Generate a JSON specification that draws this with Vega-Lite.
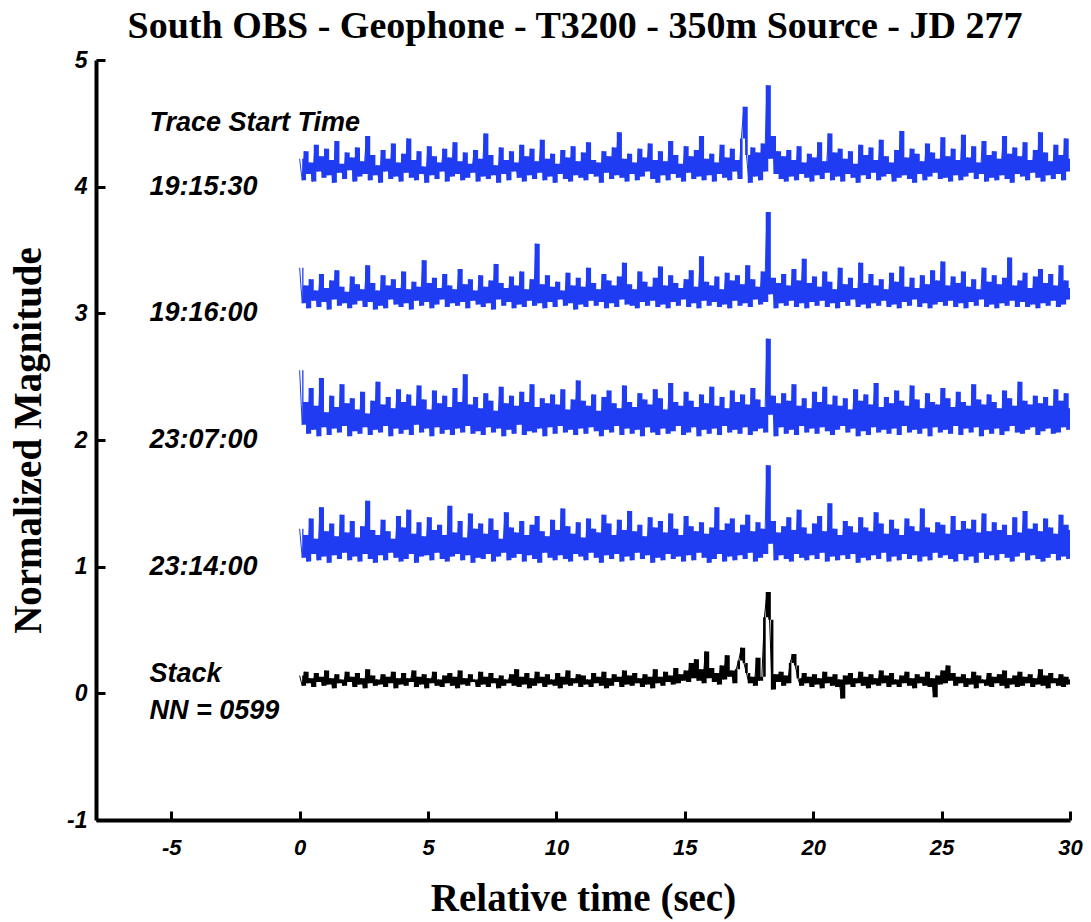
{
"$schema": "https://vega.github.io/schema/vega-lite/v6.json",
"width": 974, "height": 760,
"autosize": {"type": "none"},
"padding": {"left": 96, "top": 60, "right": 21, "bottom": 102},
"background": "white",
"title": {"text": "South OBS - Geophone - T3200 - 350m Source - JD 277", "font": "Liberation Serif", "fontSize": 38, "fontWeight": "bold", "color": "black", "anchor": "middle", "frame": "group", "baseline": "alphabetic", "offset": 0, "dy": 27, "dx": -8},
"config": {
  "view": {"stroke": null},
  "axis": {"grid": false, "domainColor": "black", "domainWidth": 4, "tickColor": "black", "tickWidth": 3, "tickSize": -9, "labelFont": "Liberation Sans", "labelFontStyle": "italic", "labelFontWeight": "bold", "labelFontSize": 22, "labelColor": "black", "labelFlush": false, "titleFont": "Liberation Serif", "titleFontWeight": "bold", "titleFontSize": 39, "titleColor": "black"}
},
"datasets": {
"sig": [
{"t":0,"a":4.22,"b":3.36,"c":2.55,"d":1.30,"e":0.14},
{"t":0.1,"a":4.05,"b":3.08,"c":2.12,"d":1.07,"e":0.06},
{"t":0.2,"a":4.28,"b":3.22,"c":2.30,"d":1.25,"e":0.17},
{"t":0.3,"a":4.10,"b":3.04,"c":2.05,"d":1.04,"e":0.08},
{"t":0.4,"a":4.19,"b":3.27,"c":2.41,"d":1.38,"e":0.12},
{"t":0.5,"a":4.04,"b":3.10,"c":2.08,"d":1.10,"e":0.05},
{"t":0.6,"a":4.33,"b":3.18,"c":2.27,"d":1.22,"e":0.16},
{"t":0.7,"a":4.12,"b":3.05,"c":2.03,"d":1.05,"e":0.09},
{"t":0.8,"a":4.24,"b":3.31,"c":2.49,"d":1.47,"e":0.13},
{"t":0.9,"a":4.07,"b":3.09,"c":2.10,"d":1.08,"e":0.06},
{"t":1.0,"a":4.30,"b":3.20,"c":2.22,"d":1.28,"e":0.18},
{"t":1.1,"a":4.09,"b":3.03,"c":2.04,"d":1.03,"e":0.07},
{"t":1.2,"a":4.21,"b":3.26,"c":2.35,"d":1.34,"e":0.12},
{"t":1.3,"a":4.03,"b":3.11,"c":2.09,"d":1.09,"e":0.04},
{"t":1.4,"a":4.36,"b":3.34,"c":2.26,"d":1.24,"e":0.15},
{"t":1.5,"a":4.11,"b":3.06,"c":2.06,"d":1.06,"e":0.08},
{"t":1.6,"a":4.18,"b":3.21,"c":2.44,"d":1.41,"e":0.11},
{"t":1.7,"a":4.06,"b":3.08,"c":2.11,"d":1.11,"e":0.06},
{"t":1.8,"a":4.27,"b":3.17,"c":2.29,"d":1.27,"e":0.17},
{"t":1.9,"a":4.13,"b":3.04,"c":2.03,"d":1.05,"e":0.09},
{"t":2.0,"a":4.23,"b":3.29,"c":2.33,"d":1.36,"e":0.13},
{"t":2.1,"a":4.04,"b":3.07,"c":2.07,"d":1.08,"e":0.05},
{"t":2.2,"a":4.31,"b":3.23,"c":2.24,"d":1.23,"e":0.16},
{"t":2.3,"a":4.08,"b":3.10,"c":2.05,"d":1.04,"e":0.07},
{"t":2.4,"a":4.20,"b":3.19,"c":2.38,"d":1.32,"e":0.12},
{"t":2.5,"a":4.10,"b":3.05,"c":2.10,"d":1.10,"e":0.04},
{"t":2.6,"a":4.40,"b":3.38,"c":2.21,"d":1.52,"e":0.19},
{"t":2.7,"a":4.05,"b":3.09,"c":2.04,"d":1.06,"e":0.08},
{"t":2.8,"a":4.25,"b":3.24,"c":2.31,"d":1.29,"e":0.14},
{"t":2.9,"a":4.09,"b":3.03,"c":2.08,"d":1.03,"e":0.06},
{"t":3.0,"a":4.17,"b":3.18,"c":2.46,"d":1.25,"e":0.11},
{"t":3.1,"a":4.03,"b":3.06,"c":2.06,"d":1.09,"e":0.07},
{"t":3.2,"a":4.29,"b":3.30,"c":2.28,"d":1.37,"e":0.15},
{"t":3.3,"a":4.12,"b":3.04,"c":2.11,"d":1.05,"e":0.05},
{"t":3.4,"a":4.22,"b":3.22,"c":2.34,"d":1.28,"e":0.13},
{"t":3.5,"a":4.06,"b":3.11,"c":2.03,"d":1.11,"e":0.08},
{"t":3.6,"a":4.34,"b":3.27,"c":2.25,"d":1.22,"e":0.17},
{"t":3.7,"a":4.08,"b":3.07,"c":2.09,"d":1.07,"e":0.04},
{"t":3.8,"a":4.19,"b":3.20,"c":2.40,"d":1.40,"e":0.12},
{"t":3.9,"a":4.04,"b":3.05,"c":2.05,"d":1.04,"e":0.07},
{"t":4.0,"a":4.26,"b":3.33,"c":2.30,"d":1.31,"e":0.16},
{"t":4.1,"a":4.11,"b":3.08,"c":2.08,"d":1.06,"e":0.06},
{"t":4.2,"a":4.38,"b":3.19,"c":2.36,"d":1.45,"e":0.12},
{"t":4.3,"a":4.07,"b":3.03,"c":2.04,"d":1.10,"e":0.09},
{"t":4.4,"a":4.21,"b":3.25,"c":2.27,"d":1.26,"e":0.18},
{"t":4.5,"a":4.05,"b":3.10,"c":2.12,"d":1.03,"e":0.05},
{"t":4.6,"a":4.28,"b":3.21,"c":2.43,"d":1.35,"e":0.13},
{"t":4.7,"a":4.10,"b":3.06,"c":2.06,"d":1.08,"e":0.07},
{"t":4.8,"a":4.16,"b":3.42,"c":2.32,"d":1.24,"e":0.15},
{"t":4.9,"a":4.03,"b":3.09,"c":2.09,"d":1.09,"e":0.04},
{"t":5.0,"a":4.32,"b":3.24,"c":2.24,"d":1.39,"e":0.12},
{"t":5.1,"a":4.09,"b":3.04,"c":2.03,"d":1.05,"e":0.08},
{"t":5.2,"a":4.24,"b":3.28,"c":2.39,"d":1.29,"e":0.17},
{"t":5.3,"a":4.06,"b":3.07,"c":2.10,"d":1.11,"e":0.06},
{"t":5.4,"a":4.19,"b":3.20,"c":2.29,"d":1.33,"e":0.11},
{"t":5.5,"a":4.12,"b":3.11,"c":2.05,"d":1.06,"e":0.05},
{"t":5.6,"a":4.30,"b":3.31,"c":2.35,"d":1.25,"e":0.14},
{"t":5.7,"a":4.04,"b":3.05,"c":2.08,"d":1.04,"e":0.08},
{"t":5.8,"a":4.23,"b":3.22,"c":2.26,"d":1.48,"e":0.16},
{"t":5.9,"a":4.08,"b":3.08,"c":2.04,"d":1.08,"e":0.06},
{"t":6.0,"a":4.35,"b":3.19,"c":2.41,"d":1.27,"e":0.13},
{"t":6.1,"a":4.10,"b":3.06,"c":2.09,"d":1.10,"e":0.04},
{"t":6.2,"a":4.20,"b":3.35,"c":2.30,"d":1.36,"e":0.18},
{"t":6.3,"a":4.05,"b":3.09,"c":2.06,"d":1.05,"e":0.07},
{"t":6.4,"a":4.27,"b":3.23,"c":2.52,"d":1.23,"e":0.12},
{"t":6.5,"a":4.07,"b":3.04,"c":2.11,"d":1.09,"e":0.06},
{"t":6.6,"a":4.18,"b":3.27,"c":2.28,"d":1.42,"e":0.15},
{"t":6.7,"a":4.11,"b":3.10,"c":2.05,"d":1.03,"e":0.09},
{"t":6.8,"a":4.29,"b":3.18,"c":2.34,"d":1.30,"e":0.11},
{"t":6.9,"a":4.04,"b":3.07,"c":2.07,"d":1.07,"e":0.05},
{"t":7.0,"a":4.22,"b":3.30,"c":2.25,"d":1.34,"e":0.17},
{"t":7.1,"a":4.08,"b":3.05,"c":2.04,"d":1.06,"e":0.07},
{"t":7.2,"a":4.42,"b":3.21,"c":2.37,"d":1.26,"e":0.13},
{"t":7.3,"a":4.06,"b":3.08,"c":2.10,"d":1.10,"e":0.05},
{"t":7.4,"a":4.25,"b":3.26,"c":2.31,"d":1.38,"e":0.16},
{"t":7.5,"a":4.09,"b":3.03,"c":2.06,"d":1.04,"e":0.08},
{"t":7.6,"a":4.17,"b":3.39,"c":2.23,"d":1.29,"e":0.12},
{"t":7.7,"a":4.03,"b":3.11,"c":2.09,"d":1.08,"e":0.04},
{"t":7.8,"a":4.31,"b":3.24,"c":2.42,"d":1.22,"e":0.14},
{"t":7.9,"a":4.10,"b":3.06,"c":2.03,"d":1.11,"e":0.06},
{"t":8.0,"a":4.21,"b":3.20,"c":2.29,"d":1.43,"e":0.11},
{"t":8.1,"a":4.05,"b":3.09,"c":2.08,"d":1.05,"e":0.08},
{"t":8.2,"a":4.28,"b":3.29,"c":2.35,"d":1.31,"e":0.15},
{"t":8.3,"a":4.12,"b":3.04,"c":2.05,"d":1.07,"e":0.06},
{"t":8.4,"a":4.19,"b":3.22,"c":2.27,"d":1.27,"e":0.19},
{"t":8.5,"a":4.07,"b":3.07,"c":2.12,"d":1.10,"e":0.05},
{"t":8.6,"a":4.33,"b":3.33,"c":2.38,"d":1.36,"e":0.13},
{"t":8.7,"a":4.04,"b":3.05,"c":2.04,"d":1.04,"e":0.07},
{"t":8.8,"a":4.24,"b":3.19,"c":2.30,"d":1.25,"e":0.16},
{"t":8.9,"a":4.09,"b":3.10,"c":2.07,"d":1.09,"e":0.04},
{"t":9.0,"a":4.30,"b":3.27,"c":2.44,"d":1.33,"e":0.12},
{"t":9.1,"a":4.06,"b":3.06,"c":2.06,"d":1.06,"e":0.06},
{"t":9.2,"a":4.20,"b":3.55,"c":2.26,"d":1.40,"e":0.17},
{"t":9.3,"a":4.11,"b":3.08,"c":2.09,"d":1.03,"e":0.08},
{"t":9.4,"a":4.37,"b":3.23,"c":2.33,"d":1.28,"e":0.13},
{"t":9.5,"a":4.05,"b":3.04,"c":2.03,"d":1.11,"e":0.05},
{"t":9.6,"a":4.22,"b":3.30,"c":2.29,"d":1.24,"e":0.15},
{"t":9.7,"a":4.08,"b":3.09,"c":2.10,"d":1.07,"e":0.07},
{"t":9.8,"a":4.26,"b":3.21,"c":2.36,"d":1.37,"e":0.11},
{"t":9.9,"a":4.03,"b":3.05,"c":2.05,"d":1.05,"e":0.06},
{"t":10.0,"a":4.18,"b":3.25,"c":2.28,"d":1.29,"e":0.16},
{"t":10.1,"a":4.10,"b":3.11,"c":2.11,"d":1.09,"e":0.04},
{"t":10.2,"a":4.29,"b":3.18,"c":2.40,"d":1.46,"e":0.13},
{"t":10.3,"a":4.06,"b":3.06,"c":2.06,"d":1.06,"e":0.07},
{"t":10.4,"a":4.23,"b":3.32,"c":2.24,"d":1.32,"e":0.18},
{"t":10.5,"a":4.04,"b":3.08,"c":2.08,"d":1.04,"e":0.06},
{"t":10.6,"a":4.32,"b":3.22,"c":2.32,"d":1.26,"e":0.12},
{"t":10.7,"a":4.09,"b":3.03,"c":2.04,"d":1.10,"e":0.08},
{"t":10.8,"a":4.20,"b":3.28,"c":2.47,"d":1.35,"e":0.15},
{"t":10.9,"a":4.07,"b":3.07,"c":2.09,"d":1.08,"e":0.05},
{"t":11.0,"a":4.27,"b":3.21,"c":2.31,"d":1.23,"e":0.14},
{"t":11.1,"a":4.05,"b":3.05,"c":2.05,"d":1.05,"e":0.07},
{"t":11.2,"a":4.35,"b":3.36,"c":2.27,"d":1.38,"e":0.11},
{"t":11.3,"a":4.10,"b":3.10,"c":2.10,"d":1.11,"e":0.05},
{"t":11.4,"a":4.21,"b":3.24,"c":2.36,"d":1.30,"e":0.16},
{"t":11.5,"a":4.08,"b":3.06,"c":2.07,"d":1.07,"e":0.08},
{"t":11.6,"a":4.19,"b":3.19,"c":2.23,"d":1.27,"e":0.13},
{"t":11.7,"a":4.03,"b":3.09,"c":2.03,"d":1.03,"e":0.06},
{"t":11.8,"a":4.28,"b":3.31,"c":2.34,"d":1.41,"e":0.17},
{"t":11.9,"a":4.11,"b":3.04,"c":2.08,"d":1.09,"e":0.04},
{"t":12.0,"a":4.24,"b":3.26,"c":2.39,"d":1.34,"e":0.12},
{"t":12.1,"a":4.06,"b":3.08,"c":2.06,"d":1.06,"e":0.06},
{"t":12.2,"a":4.31,"b":3.22,"c":2.29,"d":1.25,"e":0.15},
{"t":12.3,"a":4.09,"b":3.05,"c":2.11,"d":1.10,"e":0.09},
{"t":12.4,"a":4.43,"b":3.29,"c":2.25,"d":1.37,"e":0.13},
{"t":12.5,"a":4.07,"b":3.11,"c":2.04,"d":1.04,"e":0.05},
{"t":12.6,"a":4.22,"b":3.40,"c":2.43,"d":1.29,"e":0.18},
{"t":12.7,"a":4.04,"b":3.07,"c":2.09,"d":1.08,"e":0.07},
{"t":12.8,"a":4.26,"b":3.23,"c":2.30,"d":1.44,"e":0.14},
{"t":12.9,"a":4.10,"b":3.06,"c":2.05,"d":1.05,"e":0.06},
{"t":13.0,"a":4.19,"b":3.19,"c":2.26,"d":1.28,"e":0.16},
{"t":13.1,"a":4.05,"b":3.04,"c":2.08,"d":1.11,"e":0.08},
{"t":13.2,"a":4.30,"b":3.33,"c":2.37,"d":1.33,"e":0.12},
{"t":13.3,"a":4.08,"b":3.09,"c":2.03,"d":1.06,"e":0.05},
{"t":13.4,"a":4.23,"b":3.25,"c":2.32,"d":1.24,"e":0.15},
{"t":13.5,"a":4.12,"b":3.06,"c":2.10,"d":1.09,"e":0.07},
{"t":13.6,"a":4.34,"b":3.21,"c":2.28,"d":1.39,"e":0.13},
{"t":13.7,"a":4.06,"b":3.10,"c":2.06,"d":1.03,"e":0.04},
{"t":13.8,"a":4.21,"b":3.28,"c":2.40,"d":1.31,"e":0.19},
{"t":13.9,"a":4.03,"b":3.05,"c":2.04,"d":1.07,"e":0.08},
{"t":14.0,"a":4.28,"b":3.37,"c":2.33,"d":1.36,"e":0.13},
{"t":14.1,"a":4.09,"b":3.07,"c":2.09,"d":1.05,"e":0.06},
{"t":14.2,"a":4.20,"b":3.22,"c":2.24,"d":1.27,"e":0.17},
{"t":14.3,"a":4.05,"b":3.04,"c":2.05,"d":1.10,"e":0.09},
{"t":14.4,"a":4.36,"b":3.30,"c":2.45,"d":1.42,"e":0.14},
{"t":14.5,"a":4.10,"b":3.09,"c":2.07,"d":1.06,"e":0.07},
{"t":14.6,"a":4.25,"b":3.24,"c":2.30,"d":1.30,"e":0.20},
{"t":14.7,"a":4.07,"b":3.06,"c":2.11,"d":1.08,"e":0.08},
{"t":14.8,"a":4.18,"b":3.20,"c":2.27,"d":1.25,"e":0.15},
{"t":14.9,"a":4.04,"b":3.11,"c":2.04,"d":1.04,"e":0.10},
{"t":15.0,"a":4.32,"b":3.27,"c":2.38,"d":1.40,"e":0.18},
{"t":15.1,"a":4.11,"b":3.05,"c":2.06,"d":1.09,"e":0.09},
{"t":15.2,"a":4.24,"b":3.34,"c":2.31,"d":1.32,"e":0.24},
{"t":15.3,"a":4.06,"b":3.08,"c":2.10,"d":1.05,"e":0.12},
{"t":15.4,"a":4.29,"b":3.21,"c":2.26,"d":1.28,"e":0.27},
{"t":15.5,"a":4.08,"b":3.04,"c":2.03,"d":1.11,"e":0.10},
{"t":15.6,"a":4.40,"b":3.45,"c":2.36,"d":1.35,"e":0.19},
{"t":15.7,"a":4.05,"b":3.10,"c":2.08,"d":1.07,"e":0.08},
{"t":15.8,"a":4.22,"b":3.25,"c":2.29,"d":1.26,"e":0.33},
{"t":15.9,"a":4.09,"b":3.06,"c":2.05,"d":1.03,"e":0.12},
{"t":16.0,"a":4.26,"b":3.22,"c":2.42,"d":1.31,"e":0.20},
{"t":16.1,"a":4.04,"b":3.09,"c":2.09,"d":1.06,"e":0.09},
{"t":16.2,"a":4.19,"b":3.29,"c":2.27,"d":1.47,"e":0.16},
{"t":16.3,"a":4.10,"b":3.05,"c":2.04,"d":1.10,"e":0.07},
{"t":16.4,"a":4.33,"b":3.19,"c":2.34,"d":1.29,"e":0.22},
{"t":16.5,"a":4.07,"b":3.07,"c":2.11,"d":1.04,"e":0.11},
{"t":16.6,"a":4.23,"b":3.32,"c":2.25,"d":1.34,"e":0.30},
{"t":16.7,"a":4.05,"b":3.04,"c":2.06,"d":1.08,"e":0.13},
{"t":16.8,"a":4.30,"b":3.26,"c":2.39,"d":1.38,"e":0.18},
{"t":16.9,"a":4.12,"b":3.10,"c":2.08,"d":1.05,"e":0.08},
{"t":17.0,"a":4.21,"b":3.30,"c":2.30,"d":1.27,"e":0.19},
{"t":17.1,"a":4.06,"b":3.06,"c":2.05,"d":1.09,"e":0.26},
{"t":17.2,"a":4.38,"b":3.23,"c":2.36,"d":1.33,"e":0.36},
{"t":17.3,"a":4.63,"b":3.08,"c":2.10,"d":1.06,"e":0.24},
{"t":17.4,"a":4.25,"b":3.38,"c":2.28,"d":1.41,"e":0.16},
{"t":17.5,"a":4.03,"b":3.05,"c":2.04,"d":1.11,"e":0.08},
{"t":17.6,"a":4.31,"b":3.27,"c":2.41,"d":1.28,"e":0.13},
{"t":17.7,"a":4.08,"b":3.11,"c":2.07,"d":1.04,"e":0.06},
{"t":17.8,"a":4.27,"b":3.21,"c":2.32,"d":1.35,"e":0.28},
{"t":17.9,"a":4.05,"b":3.07,"c":2.09,"d":1.07,"e":0.10},
{"t":18.0,"a":4.34,"b":3.33,"c":2.26,"d":1.30,"e":0.13},
{"t":18.1,"a":4.12,"b":3.09,"c":2.06,"d":1.10,"e":0.60},
{"t":18.2,"a":4.80,"b":3.80,"c":2.80,"d":1.80,"e":0.80},
{"t":18.3,"a":4.22,"b":3.15,"c":2.20,"d":1.18,"e":0.58},
{"t":18.4,"a":4.40,"b":3.28,"c":2.35,"d":1.36,"e":0.03},
{"t":18.5,"a":4.10,"b":3.04,"c":2.03,"d":1.05,"e":0.15},
{"t":18.6,"a":4.28,"b":3.24,"c":2.29,"d":1.27,"e":0.09},
{"t":18.7,"a":4.06,"b":3.08,"c":2.10,"d":1.09,"e":0.17},
{"t":18.8,"a":4.24,"b":3.31,"c":2.37,"d":1.32,"e":0.06},
{"t":18.9,"a":4.04,"b":3.06,"c":2.05,"d":1.06,"e":0.14},
{"t":19.0,"a":4.29,"b":3.22,"c":2.31,"d":1.39,"e":0.08},
{"t":19.1,"a":4.08,"b":3.10,"c":2.08,"d":1.04,"e":0.24},
{"t":19.2,"a":4.21,"b":3.35,"c":2.44,"d":1.29,"e":0.31},
{"t":19.3,"a":4.05,"b":3.05,"c":2.04,"d":1.10,"e":0.22},
{"t":19.4,"a":4.32,"b":3.26,"c":2.27,"d":1.45,"e":0.12},
{"t":19.5,"a":4.10,"b":3.08,"c":2.11,"d":1.07,"e":0.06},
{"t":19.6,"a":4.19,"b":3.43,"c":2.33,"d":1.31,"e":0.16},
{"t":19.7,"a":4.07,"b":3.04,"c":2.06,"d":1.05,"e":0.08},
{"t":19.8,"a":4.26,"b":3.24,"c":2.25,"d":1.26,"e":0.13},
{"t":19.9,"a":4.04,"b":3.09,"c":2.09,"d":1.09,"e":0.05},
{"t":20.0,"a":4.23,"b":3.29,"c":2.38,"d":1.34,"e":0.15},
{"t":20.1,"a":4.09,"b":3.06,"c":2.05,"d":1.06,"e":0.07},
{"t":20.2,"a":4.35,"b":3.21,"c":2.30,"d":1.40,"e":0.12},
{"t":20.3,"a":4.06,"b":3.10,"c":2.10,"d":1.11,"e":0.04},
{"t":20.4,"a":4.20,"b":3.33,"c":2.42,"d":1.28,"e":0.17},
{"t":20.5,"a":4.11,"b":3.05,"c":2.07,"d":1.04,"e":0.08},
{"t":20.6,"a":4.42,"b":3.25,"c":2.28,"d":1.50,"e":0.13},
{"t":20.7,"a":4.05,"b":3.08,"c":2.04,"d":1.08,"e":0.06},
{"t":20.8,"a":4.27,"b":3.19,"c":2.35,"d":1.30,"e":0.15},
{"t":20.9,"a":4.08,"b":3.04,"c":2.08,"d":1.05,"e":0.05},
{"t":21.0,"a":4.30,"b":3.36,"c":2.27,"d":1.25,"e":0.11},
{"t":21.1,"a":4.04,"b":3.09,"c":2.11,"d":1.09,"e":-0.04},
{"t":21.2,"a":4.22,"b":3.23,"c":2.33,"d":1.36,"e":0.14},
{"t":21.3,"a":4.10,"b":3.06,"c":2.06,"d":1.06,"e":0.07},
{"t":21.4,"a":4.28,"b":3.28,"c":2.24,"d":1.32,"e":0.16},
{"t":21.5,"a":4.07,"b":3.11,"c":2.09,"d":1.10,"e":0.05},
{"t":21.6,"a":4.18,"b":3.20,"c":2.40,"d":1.27,"e":0.12},
{"t":21.7,"a":4.03,"b":3.05,"c":2.03,"d":1.03,"e":0.08},
{"t":21.8,"a":4.33,"b":3.40,"c":2.31,"d":1.39,"e":0.17},
{"t":21.9,"a":4.09,"b":3.07,"c":2.07,"d":1.07,"e":0.06},
{"t":22.0,"a":4.25,"b":3.24,"c":2.36,"d":1.31,"e":0.13},
{"t":22.1,"a":4.06,"b":3.04,"c":2.04,"d":1.05,"e":0.04},
{"t":22.2,"a":4.31,"b":3.31,"c":2.28,"d":1.28,"e":0.15},
{"t":22.3,"a":4.11,"b":3.08,"c":2.10,"d":1.09,"e":0.07},
{"t":22.4,"a":4.21,"b":3.22,"c":2.45,"d":1.43,"e":0.12},
{"t":22.5,"a":4.05,"b":3.06,"c":2.06,"d":1.06,"e":0.06},
{"t":22.6,"a":4.37,"b":3.27,"c":2.26,"d":1.34,"e":0.18},
{"t":22.7,"a":4.08,"b":3.10,"c":2.08,"d":1.11,"e":0.08},
{"t":22.8,"a":4.24,"b":3.19,"c":2.34,"d":1.26,"e":0.14},
{"t":22.9,"a":4.10,"b":3.05,"c":2.05,"d":1.04,"e":0.05},
{"t":23.0,"a":4.19,"b":3.32,"c":2.29,"d":1.37,"e":0.16},
{"t":23.1,"a":4.04,"b":3.07,"c":2.09,"d":1.08,"e":0.07},
{"t":23.2,"a":4.29,"b":3.25,"c":2.39,"d":1.30,"e":0.11},
{"t":23.3,"a":4.07,"b":3.04,"c":2.04,"d":1.05,"e":0.05},
{"t":23.4,"a":4.44,"b":3.37,"c":2.31,"d":1.25,"e":0.14},
{"t":23.5,"a":4.09,"b":3.09,"c":2.11,"d":1.10,"e":0.08},
{"t":23.6,"a":4.23,"b":3.21,"c":2.27,"d":1.38,"e":0.17},
{"t":23.7,"a":4.06,"b":3.06,"c":2.06,"d":1.06,"e":0.06},
{"t":23.8,"a":4.30,"b":3.28,"c":2.43,"d":1.32,"e":0.12},
{"t":23.9,"a":4.03,"b":3.11,"c":2.08,"d":1.09,"e":0.04},
{"t":24.0,"a":4.26,"b":3.20,"c":2.32,"d":1.28,"e":0.15},
{"t":24.1,"a":4.10,"b":3.05,"c":2.05,"d":1.04,"e":0.08},
{"t":24.2,"a":4.20,"b":3.30,"c":2.25,"d":1.46,"e":0.13},
{"t":24.3,"a":4.05,"b":3.08,"c":2.09,"d":1.08,"e":0.06},
{"t":24.4,"a":4.34,"b":3.23,"c":2.37,"d":1.31,"e":0.17},
{"t":24.5,"a":4.08,"b":3.04,"c":2.03,"d":1.05,"e":0.05},
{"t":24.6,"a":4.27,"b":3.34,"c":2.30,"d":1.27,"e":0.12},
{"t":24.7,"a":4.11,"b":3.07,"c":2.10,"d":1.11,"e":-0.03},
{"t":24.8,"a":4.22,"b":3.26,"c":2.28,"d":1.35,"e":0.14},
{"t":24.9,"a":4.06,"b":3.09,"c":2.06,"d":1.07,"e":0.07},
{"t":25.0,"a":4.39,"b":3.41,"c":2.41,"d":1.33,"e":0.18},
{"t":25.1,"a":4.07,"b":3.06,"c":2.08,"d":1.09,"e":0.08},
{"t":25.2,"a":4.24,"b":3.22,"c":2.33,"d":1.26,"e":0.22},
{"t":25.3,"a":4.04,"b":3.10,"c":2.05,"d":1.06,"e":0.10},
{"t":25.4,"a":4.30,"b":3.29,"c":2.26,"d":1.40,"e":0.16},
{"t":25.5,"a":4.09,"b":3.05,"c":2.11,"d":1.04,"e":0.06},
{"t":25.6,"a":4.21,"b":3.24,"c":2.38,"d":1.29,"e":0.13},
{"t":25.7,"a":4.05,"b":3.08,"c":2.04,"d":1.10,"e":0.08},
{"t":25.8,"a":4.41,"b":3.33,"c":2.30,"d":1.36,"e":0.15},
{"t":25.9,"a":4.08,"b":3.04,"c":2.09,"d":1.05,"e":0.05},
{"t":26.0,"a":4.23,"b":3.21,"c":2.27,"d":1.30,"e":0.12},
{"t":26.1,"a":4.11,"b":3.09,"c":2.06,"d":1.08,"e":0.07},
{"t":26.2,"a":4.32,"b":3.27,"c":2.44,"d":1.37,"e":0.17},
{"t":26.3,"a":4.06,"b":3.06,"c":2.10,"d":1.03,"e":0.04},
{"t":26.4,"a":4.19,"b":3.19,"c":2.32,"d":1.27,"e":0.14},
{"t":26.5,"a":4.10,"b":3.11,"c":2.03,"d":1.11,"e":0.08},
{"t":26.6,"a":4.36,"b":3.36,"c":2.28,"d":1.42,"e":0.11},
{"t":26.7,"a":4.04,"b":3.05,"c":2.08,"d":1.06,"e":0.06},
{"t":26.8,"a":4.25,"b":3.25,"c":2.36,"d":1.28,"e":0.16},
{"t":26.9,"a":4.07,"b":3.07,"c":2.05,"d":1.09,"e":0.05},
{"t":27.0,"a":4.28,"b":3.30,"c":2.30,"d":1.35,"e":0.13},
{"t":27.1,"a":4.05,"b":3.04,"c":2.09,"d":1.05,"e":0.08},
{"t":27.2,"a":4.22,"b":3.23,"c":2.25,"d":1.29,"e":0.15},
{"t":27.3,"a":4.09,"b":3.08,"c":2.04,"d":1.10,"e":0.06},
{"t":27.4,"a":4.40,"b":3.28,"c":2.39,"d":1.33,"e":0.18},
{"t":27.5,"a":4.06,"b":3.06,"c":2.07,"d":1.07,"e":0.04},
{"t":27.6,"a":4.26,"b":3.44,"c":2.33,"d":1.25,"e":0.12},
{"t":27.7,"a":4.03,"b":3.10,"c":2.11,"d":1.04,"e":0.07},
{"t":27.8,"a":4.31,"b":3.22,"c":2.27,"d":1.39,"e":0.14},
{"t":27.9,"a":4.10,"b":3.05,"c":2.06,"d":1.08,"e":0.05},
{"t":28.0,"a":4.24,"b":3.26,"c":2.46,"d":1.27,"e":0.17},
{"t":28.1,"a":4.08,"b":3.09,"c":2.05,"d":1.11,"e":0.06},
{"t":28.2,"a":4.35,"b":3.32,"c":2.31,"d":1.44,"e":0.13},
{"t":28.3,"a":4.05,"b":3.05,"c":2.08,"d":1.05,"e":0.08},
{"t":28.4,"a":4.21,"b":3.20,"c":2.28,"d":1.30,"e":0.15},
{"t":28.5,"a":4.11,"b":3.07,"c":2.10,"d":1.09,"e":0.05},
{"t":28.6,"a":4.29,"b":3.29,"c":2.35,"d":1.34,"e":0.12},
{"t":28.7,"a":4.07,"b":3.04,"c":2.04,"d":1.06,"e":0.07},
{"t":28.8,"a":4.43,"b":3.35,"c":2.29,"d":1.28,"e":0.19},
{"t":28.9,"a":4.04,"b":3.08,"c":2.07,"d":1.04,"e":0.06},
{"t":29.0,"a":4.27,"b":3.24,"c":2.34,"d":1.38,"e":0.14},
{"t":29.1,"a":4.09,"b":3.06,"c":2.09,"d":1.07,"e":0.04},
{"t":29.2,"a":4.20,"b":3.31,"c":2.27,"d":1.31,"e":0.16},
{"t":29.3,"a":4.06,"b":3.10,"c":2.05,"d":1.10,"e":0.08},
{"t":29.4,"a":4.33,"b":3.22,"c":2.40,"d":1.26,"e":0.12},
{"t":29.5,"a":4.10,"b":3.05,"c":2.06,"d":1.05,"e":0.06},
{"t":29.6,"a":4.25,"b":3.38,"c":2.31,"d":1.41,"e":0.15},
{"t":29.7,"a":4.05,"b":3.07,"c":2.10,"d":1.08,"e":0.05},
{"t":29.8,"a":4.38,"b":3.26,"c":2.37,"d":1.33,"e":0.13},
{"t":29.9,"a":4.12,"b":3.11,"c":2.08,"d":1.06,"e":0.07},
{"t":30.0,"a":4.22,"b":3.20,"c":2.25,"d":1.29,"e":0.11}
]},
"layer": [
{
"data": {"name": "sig"},
"transform": [
  {"fold": ["a", "b", "c", "d", "e"], "as": ["k", "v"]},
  {"window": [{"op": "lag", "field": "v", "as": "pv"}], "groupby": ["k"], "sort": [{"field": "t", "order": "ascending"}]},
  {"filter": "datum.pv != null"}
],
"mark": {"type": "area", "interpolate": "step", "clip": true, "opacity": 1},
"encoding": {
  "x": {"field": "t", "type": "quantitative", "scale": {"domain": [-7.93, 30], "nice": false, "zero": false}},
  "y": {"field": "v", "type": "quantitative", "stack": null, "scale": {"domain": [-1, 5], "nice": false, "zero": false}},
  "y2": {"field": "pv"},
  "color": {"field": "k", "type": "nominal", "scale": {"domain": ["a", "b", "c", "d", "e"], "range": ["#1f3cf2", "#1f3cf2", "#1f3cf2", "#1f3cf2", "#000000"]}, "legend": null}
}
},
{
"data": {"name": "sig"},
"transform": [{"fold": ["a", "b", "c", "d", "e"], "as": ["k", "v"]}],
"mark": {"type": "line", "strokeWidth": 1, "clip": true},
"encoding": {
  "x": {"field": "t", "type": "quantitative", "scale": {"domain": [-7.93, 30], "nice": false, "zero": false},
        "axis": {"title": "Relative time (sec)", "values": [-5, 0, 5, 10, 15, 20, 25, 30], "labelExpr": "'' + datum.value", "labelFontSize": 22, "labelPadding": 26, "titleY": 90, "titleBaseline": "alphabetic"}},
  "y": {"field": "v", "type": "quantitative", "scale": {"domain": [-1, 5], "nice": false, "zero": false},
        "axis": {"title": "Normalized Magnitude", "values": [-1, 0, 1, 2, 3, 4, 5], "labelExpr": "'' + datum.value", "labelFontSize": 23, "labelPadding": 18, "titleX": -56, "titleBaseline": "alphabetic"}},
  "color": {"field": "k", "type": "nominal", "scale": {"domain": ["a", "b", "c", "d", "e"], "range": ["#1f3cf2", "#1f3cf2", "#1f3cf2", "#1f3cf2", "#000000"]}, "legend": null}
}
},
{
"data": {"values": [
{"x": -5.85, "y": 4.5, "s": "Trace Start Time"},
{"x": -5.85, "y": 4.0, "s": "19:15:30"},
{"x": -5.85, "y": 3.0, "s": "19:16:00"},
{"x": -5.85, "y": 2.0, "s": "23:07:00"},
{"x": -5.85, "y": 1.0, "s": "23:14:00"},
{"x": -5.85, "y": 0.15, "s": "Stack"},
{"x": -5.85, "y": -0.14, "s": "NN = 0599"}
]},
"mark": {"type": "text", "font": "Liberation Sans", "fontStyle": "italic", "fontWeight": "bold", "fontSize": 27, "align": "left", "baseline": "middle", "color": "black"},
"encoding": {
  "x": {"field": "x", "type": "quantitative"},
  "y": {"field": "y", "type": "quantitative"},
  "text": {"field": "s"}
}
}
]
}
